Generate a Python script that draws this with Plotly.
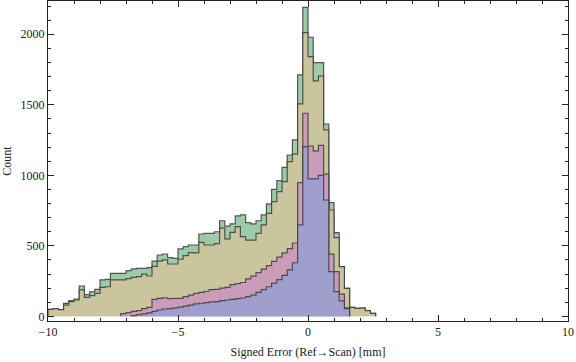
import plotly.graph_objects as go

# Histogram bins: width 0.2 from -10 to 2.6
bin_start = -10.0
bin_width = 0.2

green = [50, 54, 47, 92, 111, 123, 215, 154, 173, 191,
         258, 262, 305, 305, 305, 324, 336, 340, 340, 345,
         392, 435, 442, 416, 411, 478, 494, 506, 506, 584,
         588, 588, 600, 678, 640, 655, 712, 719, 664, 655,
         678, 719, 797, 901, 962, 1057, 1144, 1251, 1712, 2191,
         1979, 1799, 1799, 1364, 806, 593, 352, 199, 64, 57,
         59, 40, 21]

olive = [50, 54, 47, 80, 104, 116, 187, 135, 147, 163,
         206, 210, 258, 258, 258, 267, 277, 281, 300, 286,
         355, 392, 400, 371, 371, 405, 430, 452, 450, 525,
         506, 506, 515, 625, 550, 595, 636, 565, 541, 541,
         589, 648, 730, 813, 884, 955, 1097, 1150, 1506, 2012,
         1842, 1669, 1704, 1322, 754, 558, 352, 199, 64, 57,
         59, 40, 21]

pink = [0, 0, 0, 0, 0, 0, 0, 0, 0, 0,
        0, 0, 0, 0, 20, 26, 35, 40, 55, 64,
        120, 128, 132, 125, 128, 128, 140, 151, 163, 170,
        178, 190, 191, 200, 205, 225, 232, 240, 265, 285,
        310, 335, 360, 390, 420, 450, 480, 520, 948, 1440,
        1208, 1173, 1212, 1009, 441, 317, 158, 60, 0, 0,
        0, 0, 0]

blue = [0, 0, 0, 0, 0, 0, 0, 0, 0, 0,
        0, 0, 0, 0, 0, 0, 5, 12, 18, 25,
        35, 45, 52, 55, 60, 66, 72, 80, 88, 93,
        97, 102, 105, 112, 116, 120, 125, 130, 140, 150,
        170, 190, 210, 235, 260, 290, 330, 380, 648, 1203,
        975, 975, 1000, 825, 317, 175, 109, 55, 0, 0,
        0, 0, 0]

series = [
    ("green", green, "#9DCBAA"),
    ("olive", olive, "#CBC59E"),
    ("pink", pink, "#CB9BBA"),
    ("blue", blue, "#9F9ECC"),
]

x_ticks = [-10, -5, 0, 5, 10]
x_tick_labels = ["\u221210", "\u22125", "0", "5", "10"]
y_ticks = [0, 500, 1000, 1500, 2000]

fig = go.Figure()
edges = [bin_start + bin_width * i for i in range(len(green) + 1)]
for name, vals, col in series:
    nz = [i for i, v in enumerate(vals) if v > 0]
    s, e = nz[0], nz[-1]
    xs = [edges[s]] + edges[s:e + 2]
    ys = [0] + vals[s:e + 1] + [0]
    fig.add_trace(go.Scatter(
        x=xs, y=ys, mode="lines", line_shape="hv",
        line=dict(color="rgba(60,60,60,0.85)", width=1.2),
        fill="tozeroy", fillcolor=col, name=name, showlegend=False,
        hoverinfo="skip"))

axis_common = dict(
    showgrid=False, zeroline=False, showline=True, linecolor="#222",
    linewidth=1, mirror="ticks", ticks="inside", tickcolor="#222",
    tickwidth=1, ticklen=6,
    tickfont=dict(family="Liberation Serif", size=12, color="#222"),
)

fig.update_xaxes(
    range=[-10, 10], tickvals=x_ticks, ticktext=x_tick_labels,
    minor=dict(dtick=1, ticks="inside", ticklen=3, tickcolor="#222"),
    title=dict(text="Signed Error (Ref\u2192Scan) [mm]",
               font=dict(family="Liberation Serif", size=12, color="#222"),
               standoff=9),
    **axis_common)
fig.update_yaxes(
    range=[-33, 2236], tickvals=y_ticks,
    minor=dict(dtick=100, ticks="inside", ticklen=3, tickcolor="#222"),
    title=dict(text="Count",
               font=dict(family="Liberation Serif", size=12, color="#222"),
               standoff=8),
    **axis_common)

fig.update_layout(
    width=576, height=362,
    margin=dict(l=48, r=8, t=1, b=41),
    paper_bgcolor="white", plot_bgcolor="white",
)

fig.write_html("out.html",
               config={"displayModeBar": False, "staticPlot": True},
               post_script="document.body.style.margin='0';document.body.style.padding='0';")
